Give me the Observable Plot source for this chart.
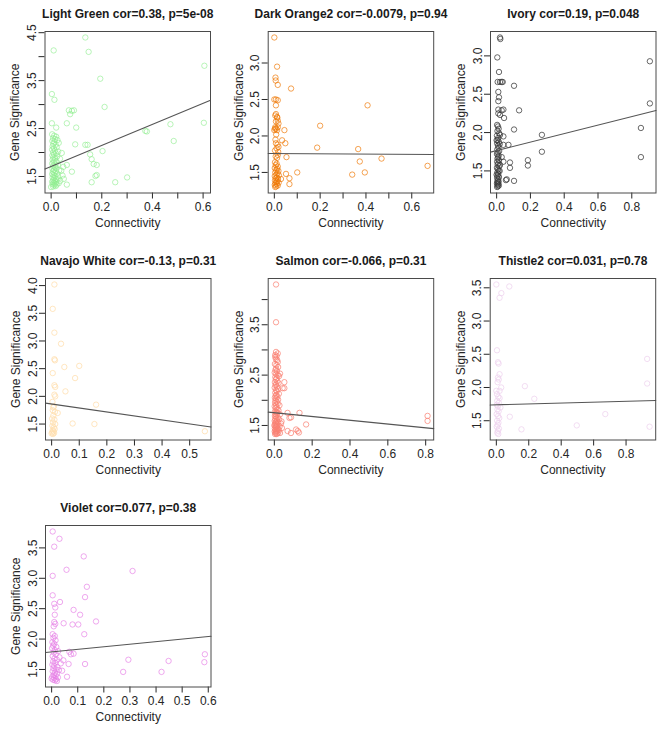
<!DOCTYPE html>
<html><head><meta charset="utf-8">
<script src="https://cdn.jsdelivr.net/npm/d3@7"></script>
<script src="https://cdn.jsdelivr.net/npm/@observablehq/plot@0.6"></script>
<style>
body{margin:0;background:#fff;}
#chart{position:relative;width:663px;height:731px;overflow:hidden;background:#fff;}
#chart .cell{position:absolute;}
#chart svg{overflow:visible;background:transparent;display:block;}
</style></head><body><div id="chart"></div>
<script>
// ---------- DATA ----------
const titles = [
  "Light Green cor=0.38, p=5e-08",
  "Dark Orange2 cor=-0.0079, p=0.94",
  "Ivory cor=0.19, p=0.048",
  "Navajo White cor=-0.13, p=0.31",
  "Salmon cor=-0.066, p=0.31",
  "Thistle2 cor=0.031, p=0.78",
  "Violet cor=0.077, p=0.38"
];
const pointColors = ["#90EE90", "#EE7600", "#3a3a3a", "#FFDEAD", "#FA8072", "#EED2EE", "#E67FE6"];
const pointOpacity = [0.7, 0.75, 0.85, 0.85, 0.8, 0.85, 0.75];
const xLabel = "Connectivity";
const yLabel = "Gene Significance";

// fitted line (abline) per panel: intercept, slope
const fitIntercept = [1.71, 1.759, 1.765, 1.862, 1.753, 1.74, 1.79];
const fitSlope = [2.19, -0.02, 0.555, -0.718, -0.376, 0.065, 0.42];

// ticks and labelled ticks
const xTicks = [
  [0, 0.1, 0.2, 0.3, 0.4, 0.5, 0.6],
  [0, 0.1, 0.2, 0.3, 0.4, 0.5, 0.6],
  [0, 0.2, 0.4, 0.6, 0.8],
  [0, 0.1, 0.2, 0.3, 0.4, 0.5],
  [0, 0.2, 0.4, 0.6, 0.8],
  [0, 0.2, 0.4, 0.6, 0.8],
  [0, 0.1, 0.2, 0.3, 0.4, 0.5, 0.6]
];
const xTickLabels = [
  [0, 0.2, 0.4, 0.6],
  [0, 0.2, 0.4, 0.6],
  [0, 0.2, 0.4, 0.6, 0.8],
  [0, 0.1, 0.2, 0.3, 0.4, 0.5],
  [0, 0.2, 0.4, 0.6, 0.8],
  [0, 0.2, 0.4, 0.6, 0.8],
  [0, 0.1, 0.2, 0.3, 0.4, 0.5, 0.6]
];
const yTicks = [
  [1.5, 2, 2.5, 3, 3.5, 4, 4.5],
  [1.5, 2, 2.5, 3],
  [1.5, 2, 2.5, 3],
  [1.5, 2, 2.5, 3, 3.5, 4],
  [1.5, 2, 2.5, 3, 3.5, 4],
  [1.5, 2, 2.5, 3, 3.5],
  [1.5, 2, 2.5, 3, 3.5]
];
const yTickLabels = [
  [1.5, 2.5, 3.5, 4.5],
  [1.5, 2, 2.5, 3],
  [1.5, 2, 2.5, 3],
  [1.5, 2, 2.5, 3, 3.5, 4],
  [1.5, 2.5, 3.5],
  [1.5, 2, 2.5, 3, 3.5],
  [1.5, 2, 2.5, 3, 3.5]
];

// points [connectivity, gene significance]
const lightGreen = [
  [0.135,4.4],[0.01,4.13],[0.148,4.1],[0.605,3.81],[0.194,3.54],[0.003,3.22],[0.013,3.1],[0.211,2.95],
  [0.07,2.88],[0.082,2.87],[0.09,2.88],[0.075,2.8],[0.003,2.61],[0.062,2.61],[0.603,2.62],[0.471,2.59],
  [0.099,2.52],[0.02,2.52],[0.372,2.45],[0.378,2.44],[0.484,2.24],[0.095,2.17],[0.135,2.16],[0.144,2.16],
  [0.203,2.03],[0.042,1.99],[0.154,1.96],[0.16,1.86],[0.168,1.76],[0.18,1.74],[0.062,1.74],[0.082,1.6],
  [0.18,1.53],[0.175,1.51],[0.3,1.48],[0.253,1.38],[0.16,1.38],[0.062,1.33],[0.036,1.41],
  [0.004,2.38],[0.012,2.35],[0.02,2.33],[0.008,2.3],[0.016,2.28],[0.025,2.26],[0.005,2.24],[0.013,2.22],
  [0.03,2.2],[0.009,2.18],[0.018,2.16],[0.006,2.13],[0.022,2.11],[0.011,2.09],[0.004,2.06],[0.015,2.04],
  [0.028,2.02],[0.008,2.0],[0.019,1.98],[0.012,1.96],[0.005,1.94],[0.024,1.92],[0.009,1.9],[0.016,1.88],
  [0.035,1.87],[0.006,1.85],[0.013,1.83],[0.021,1.81],[0.01,1.79],[0.004,1.77],[0.017,1.75],[0.027,1.74],
  [0.008,1.72],[0.014,1.7],[0.02,1.68],[0.005,1.66],[0.011,1.64],[0.032,1.63],[0.018,1.61],[0.007,1.6],
  [0.013,1.58],[0.023,1.56],[0.004,1.55],[0.01,1.53],[0.016,1.51],[0.028,1.5],[0.006,1.48],[0.012,1.47],
  [0.019,1.45],[0.025,1.44],[0.008,1.42],[0.014,1.41],[0.004,1.39],[0.02,1.38],[0.01,1.37],[0.03,1.36],
  [0.015,1.35],[0.006,1.34],[0.022,1.33],[0.012,1.32],[0.018,1.3],[0.008,1.29],[0.0,1.28],
  [0.045,1.52],[0.05,1.45],[0.04,1.62],[0.048,1.7]
];
const darkOrange2 = [
  [0.0,3.35],[0.012,2.95],[0.005,2.8],[0.006,2.76],[0.015,2.7],[0.073,2.65],[0.0,2.5],[0.007,2.5],
  [0.015,2.49],[0.007,2.42],[0.407,2.42],[0.007,2.3],[0.012,2.26],[0.015,2.21],[0.004,2.12],[0.008,2.1],
  [0.015,2.12],[0.2,2.14],[0.044,2.08],[0.0,2.08],[0.034,1.94],[0.048,1.9],[0.007,1.9],[0.018,1.85],
  [0.187,1.84],[0.366,1.82],[0.053,1.71],[0.015,1.74],[0.373,1.65],[0.468,1.69],[0.669,1.59],[0.1,1.5],
  [0.051,1.48],[0.34,1.47],[0.395,1.5],[0.066,1.42],[0.029,1.41],[0.066,1.34],
  [0.003,1.64],[0.01,1.62],[0.006,1.6],[0.015,1.58],[0.002,1.56],[0.012,1.55],[0.008,1.53],[0.018,1.52],
  [0.004,1.5],[0.014,1.49],[0.009,1.47],[0.02,1.46],[0.002,1.45],[0.011,1.43],[0.006,1.42],[0.016,1.41],
  [0.003,1.39],[0.013,1.38],[0.008,1.37],[0.019,1.36],[0.005,1.35],[0.011,1.34],[0.002,1.33],[0.015,1.32],
  [0.008,1.31],[0.004,1.3],[0.012,1.7],[0.006,1.72],[0.017,1.78],[0.003,1.8],[0.01,1.83],[0.014,1.88],
  [0.005,1.95],[0.008,2.02],[0.012,2.08],[0.003,2.1],[0.018,2.17],[0.007,2.2],[0.013,2.25],[0.004,2.28]
];
const ivory = [
  [0.02,3.24],[0.022,3.22],[0.004,2.98],[0.014,2.79],[0.006,2.66],[0.02,2.66],[0.03,2.66],[0.036,2.66],
  [0.103,2.61],[0.01,2.53],[0.014,2.46],[0.01,2.41],[0.907,2.93],[0.907,2.38],[0.01,2.3],[0.03,2.29],
  [0.04,2.3],[0.133,2.29],[0.044,2.19],[0.01,2.25],[0.02,2.23],[0.103,2.04],[0.268,1.97],[0.268,1.75],
  [0.854,2.06],[0.854,1.68],[0.04,1.84],[0.07,1.84],[0.185,1.64],[0.185,1.57],[0.079,1.61],[0.079,1.54],
  [0.06,1.39],[0.055,1.38],[0.103,1.37],[0.04,1.62],[0.03,1.68],[0.04,1.95],[0.02,1.97],
  [0.003,2.1],[0.008,2.08],[0.012,2.05],[0.005,2.02],[0.015,1.99],[0.002,1.96],[0.009,1.93],[0.006,1.9],
  [0.013,1.88],[0.003,1.86],[0.018,1.85],[0.008,1.83],[0.011,1.8],[0.004,1.78],[0.015,1.76],[0.007,1.74],
  [0.002,1.72],[0.012,1.7],[0.009,1.68],[0.005,1.66],[0.014,1.64],[0.003,1.62],[0.01,1.6],[0.006,1.58],
  [0.016,1.56],[0.002,1.54],[0.008,1.52],[0.012,1.5],[0.004,1.48],[0.01,1.46],[0.006,1.44],[0.014,1.42],
  [0.003,1.41],[0.009,1.39],[0.005,1.37],[0.012,1.36],[0.007,1.35],[0.002,1.34],[0.01,1.33],[0.005,1.32],
  [0.013,1.31],[0.008,1.3],[0.003,1.29],[0.0,1.45],[0.0,1.9],[0.018,1.5],[0.02,1.58]
];
const navajoWhite = [
  [0.01,4.02],[0.004,3.58],[0.01,3.15],[0.034,2.95],[0.01,2.67],[0.012,2.65],[0.004,2.42],[0.046,2.53],
  [0.1,2.55],[0.085,2.33],[0.01,2.2],[0.013,2.17],[0.05,2.09],[0.01,2.03],[0.013,2.0],[0.161,1.85],
  [0.022,1.7],[0.076,1.51],[0.155,1.5],[0.555,1.37],
  [0.003,1.9],[0.008,1.82],[0.004,1.75],[0.012,1.72],[0.006,1.65],[0.002,1.6],[0.01,1.58],[0.005,1.53],
  [0.013,1.5],[0.003,1.47],[0.008,1.44],[0.011,1.41],[0.004,1.39],[0.007,1.37],[0.002,1.35],[0.009,1.34],
  [0.005,1.32],[0.0,1.33],[0.006,1.8]
];
const salmon = [
  [0.009,4.3],[0.009,3.55],[0.009,2.96],[0.018,2.93],[0.005,2.86],[0.018,2.76],[0.009,2.63],[0.053,2.36],
  [0.044,2.24],[0.053,2.24],[0.03,2.53],[0.07,1.75],[0.133,1.75],[0.08,1.65],[0.088,1.66],[0.168,1.52],
  [0.115,1.42],[0.124,1.39],[0.07,1.39],[0.088,1.35],[0.13,1.36],[0.81,1.69],[0.81,1.59],
  [0.005,2.9],[0.012,2.88],[0.008,2.82],[0.015,2.8],[0.003,2.72],[0.011,2.7],[0.02,2.66],[0.006,2.6],
  [0.014,2.58],[0.002,2.55],[0.01,2.52],[0.018,2.5],[0.025,2.48],
  [0.005,2.46],[0.012,2.44],[0.008,2.41],[0.016,2.38],[0.003,2.36],[0.022,2.34],[0.01,2.32],[0.006,2.3],
  [0.014,2.27],[0.002,2.25],[0.019,2.22],[0.009,2.2],[0.013,2.18],[0.005,2.15],[0.024,2.13],[0.011,2.11],
  [0.007,2.09],[0.016,2.07],[0.003,2.05],[0.01,2.03],[0.02,2.01],
  [0.006,1.99],[0.013,1.97],[0.004,1.95],[0.018,1.93],[0.009,1.91],[0.027,1.9],[0.002,1.88],[0.012,1.86],
  [0.007,1.84],[0.016,1.82],[0.022,1.8],[0.004,1.78],[0.01,1.77],[0.015,1.75],[0.006,1.73],[0.03,1.72],
  [0.012,1.71],
  [0.003,1.69],[0.008,1.68],[0.018,1.66],[0.011,1.64],[0.005,1.63],[0.025,1.62],[0.014,1.6],[0.002,1.59],
  [0.009,1.57],[0.02,1.56],[0.006,1.55],[0.035,1.54],[0.012,1.53],[0.004,1.51],[0.016,1.5],[0.01,1.49],
  [0.028,1.48],[0.007,1.47],[0.013,1.45],[0.003,1.44],[0.019,1.43],[0.009,1.42],[0.025,1.41],[0.005,1.4],
  [0.014,1.39],[0.002,1.38],[0.01,1.37],[0.021,1.36],[0.007,1.35],[0.015,1.34],[0.004,1.33],[0.012,1.33],
  [0.03,1.35],[0.04,1.45],[0.038,1.58],[0.0,1.5]
];
const thistle2 = [
  [0.0,3.55],[0.031,3.42],[0.02,3.35],[0.08,3.52],[0.004,2.56],[0.01,2.38],[0.014,2.36],[0.02,2.2],
  [0.01,2.15],[0.176,2.02],[0.93,2.06],[0.93,2.43],[0.234,1.83],[0.083,1.56],[0.155,1.37],[0.496,1.43],
  [0.672,1.6],[0.945,1.41],[0.03,2.0],[0.0,1.95],
  [0.004,1.9],[0.012,1.86],[0.02,1.84],[0.006,1.8],[0.015,1.77],[0.003,1.74],[0.01,1.72],[0.025,1.7],
  [0.007,1.67],[0.014,1.64],[0.002,1.6],[0.011,1.57],[0.018,1.54],[0.005,1.5],[0.013,1.47],[0.008,1.44],
  [0.003,1.41],[0.016,1.38],[0.01,1.35],[0.006,1.32],[0.012,1.3],[0.02,1.95],[0.008,2.08],[0.015,2.12]
];
const violet = [
  [0.004,3.77],[0.03,3.65],[0.01,3.52],[0.123,3.36],[0.057,3.14],[0.31,3.12],[0.004,3.04],[0.135,2.86],
  [0.128,2.69],[0.004,2.72],[0.032,2.61],[0.01,2.58],[0.014,2.52],[0.084,2.48],[0.109,2.4],[0.012,2.4],
  [0.17,2.29],[0.01,2.28],[0.014,2.25],[0.008,2.21],[0.046,2.26],[0.08,2.24],[0.102,2.24],[0.125,2.08],
  [0.068,1.79],[0.074,1.75],[0.084,1.76],[0.294,1.66],[0.128,1.59],[0.065,1.59],[0.448,1.64],[0.587,1.75],
  [0.585,1.62],[0.274,1.46],[0.421,1.46],[0.059,1.38],
  [0.004,2.08],[0.012,2.05],[0.007,2.02],[0.015,1.98],[0.003,1.95],[0.01,1.92],[0.006,1.89],[0.018,1.87],
  [0.002,1.85],[0.012,1.82],[0.025,1.8],[0.008,1.78],[0.016,1.75],[0.004,1.72],[0.03,1.7],[0.011,1.68],
  [0.02,1.66],[0.006,1.63],[0.014,1.61],[0.035,1.6],[0.003,1.58],[0.01,1.56],[0.022,1.54],[0.007,1.52],
  [0.016,1.5],[0.028,1.49],[0.004,1.47],[0.012,1.45],[0.02,1.43],[0.008,1.41],[0.015,1.4],[0.003,1.38],
  [0.024,1.37],[0.01,1.36],[0.017,1.34],[0.006,1.33],[0.013,1.32],[0.02,1.31],[0.0,1.35],[0.04,1.48],
  [0.045,1.65]
];
const panelData = [lightGreen, darkOrange2, ivory, navajoWhite, salmon, thistle2, violet];

// ---------- LAYOUT ----------
const colStart = [0, 221, 442];
const frameLeft = [44.5, 267.7, 490, 45, 267.7, 489.7, 45];
const frameTopRow = [31, 277.5, 525];
const panelCol = [0, 1, 2, 0, 1, 2, 0];
const panelRow = [0, 0, 0, 1, 1, 1, 2];
const FRAME_W = 165.5, FRAME_H = 161.5, MT = 31, MB = 42, CELL_W = 221;

const chart = document.getElementById("chart");
const fmt = d3.format(".1f");

function extend(vals) {
  const [a, b] = d3.extent(vals);
  const r = (b - a) * 0.04;
  return [a - r, b + r];
}

panelData.forEach((data, i) => {
  const xd = extend(data.map(d => d[0]));
  const yd = extend(data.map(d => d[1]));
  const fit = xd.map(x => ({x, y: fitIntercept[i] + fitSlope[i] * x}));
  const ml = frameLeft[i] - colStart[panelCol[i]];
  const xl = xTickLabels[i], yl = yTickLabels[i];
  const svg = Plot.plot({
    width: CELL_W,
    height: MT + FRAME_H + MB,
    marginLeft: ml,
    marginRight: CELL_W - ml - FRAME_W,
    marginTop: MT,
    marginBottom: MB,
    style: {fontFamily: "'Liberation Sans', Arial, Helvetica, sans-serif", fontSize: "12px", color: "#262626", background: "transparent", overflow: "visible"},
    x: {domain: xd, ticks: xTicks[i], tickFormat: d => xl.includes(d) ? fmt(d) : "", tickSize: 6, tickPadding: 3, label: null},
    y: {domain: yd, ticks: yTicks[i], tickFormat: d => yl.includes(d) ? fmt(d) : "", tickSize: 6, tickRotate: -90, label: null},
    marks: [
      Plot.dot(data, {x: d => d[0], y: d => d[1], r: 2.7, stroke: pointColors[i], strokeWidth: 0.9, fill: "none", strokeOpacity: pointOpacity[i]}),
      Plot.line(fit, {x: "x", y: "y", stroke: "#555", strokeWidth: 1.1}),
      Plot.frame({stroke: "#4a4a4a", strokeWidth: 1}),
      Plot.text([titles[i]], {text: d => d, frameAnchor: "top", dy: -17, textAnchor: "middle", lineAnchor: "middle", fontWeight: "bold", fontSize: 12, fill: "#1a1a1a"}),
      Plot.text([xLabel], {text: d => d, frameAnchor: "bottom", dy: 30, textAnchor: "middle", lineAnchor: "middle", fontSize: 12, fill: "#262626"}),
      Plot.text([yLabel], {text: d => d, frameAnchor: "left", dx: -29.5, rotate: -90, textAnchor: "middle", lineAnchor: "middle", fontSize: 12, fill: "#262626"})
    ]
  });
  const cell = document.createElement("div");
  cell.className = "cell";
  cell.style.left = colStart[panelCol[i]] + "px";
  cell.style.top = (frameTopRow[panelRow[i]] - MT) + "px";
  cell.appendChild(svg);
  chart.appendChild(cell);
});
</script></body></html>
